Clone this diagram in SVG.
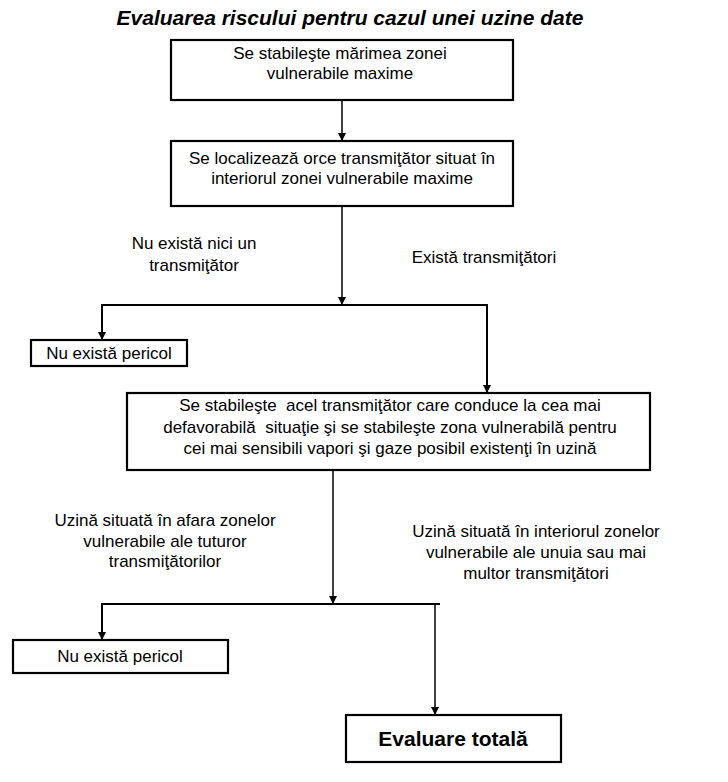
<svg xmlns="http://www.w3.org/2000/svg" width="728" height="782" viewBox="0 0 728 782">
<defs>
<marker id="arr" viewBox="0 0 10 10" refX="10" refY="5" markerWidth="8" markerHeight="8" markerUnits="userSpaceOnUse" orient="auto">
<path d="M0,0 L10,5 L0,10 z" fill="#000"/>
</marker>
<style>
.box{fill:#fff;stroke:#000;stroke-width:2.2}
.t{font-family:"Liberation Sans",Arial,sans-serif;font-size:17px;fill:#000;text-anchor:middle;white-space:pre}
.c{fill:none;stroke:#000;stroke-width:1.5}
.h{fill:none;stroke:#000;stroke-width:2}
</style>
</defs>
<rect width="728" height="782" fill="#fff"/>
<text x="350" y="25" font-family="Liberation Sans,Arial,sans-serif" font-size="21" font-weight="bold" font-style="italic" text-anchor="middle">Evaluarea riscului pentru cazul unei uzine date</text>
<g id="connectors">
<line class="c" x1="342" y1="100" x2="342" y2="141" marker-end="url(#arr)"/>
<line class="c" x1="342" y1="206" x2="342" y2="305" marker-end="url(#arr)"/>
<polyline class="h" points="102,340 102,305 487,305 487,393"/>
<line class="c" x1="102" y1="312" x2="102" y2="340" marker-end="url(#arr)"/>
<line class="c" x1="487" y1="370" x2="487" y2="393" marker-end="url(#arr)"/>
<line class="c" x1="333" y1="470" x2="333" y2="604" marker-end="url(#arr)"/>
<polyline class="h" points="102,640 102,604 440,604"/>
<line class="c" x1="102" y1="615" x2="102" y2="640" marker-end="url(#arr)"/>
<line class="c" x1="435" y1="604" x2="435" y2="715" marker-end="url(#arr)"/>
</g>
<g id="labels">
<text class="t" x="194" y="249">Nu există nici un</text>
<text class="t" x="194" y="271">transmiţător</text>
<text class="t" x="484" y="263">Există transmiţători</text>
<text class="t" x="165" y="526">Uzină situată în afara zonelor</text>
<text class="t" x="165" y="547">vulnerabile ale tuturor</text>
<text class="t" x="165" y="567">transmiţătorilor</text>
<text class="t" x="536" y="537">Uzină situată în interiorul zonelor</text>
<text class="t" x="536" y="558">vulnerabile ale unuia sau mai</text>
<text class="t" x="536" y="579">multor transmiţători</text>
</g>
<g id="n1">
<rect class="box" x="171" y="40" width="342" height="60"/>
<text class="t" x="340" y="59">Se stabileşte mărimea zonei</text>
<text class="t" x="340" y="79">vulnerabile maxime</text>
</g>
<g id="n2">
<rect class="box" x="171" y="141" width="342" height="65"/>
<text class="t" x="342" y="164">Se localizează orce transmiţător situat în</text>
<text class="t" x="342" y="184">interiorul zonei vulnerabile maxime</text>
</g>
<g id="n3">
<rect class="box" x="31" y="340" width="156" height="26"/>
<text class="t" x="109" y="359">Nu există pericol</text>
</g>
<g id="n4">
<rect class="box" x="127" y="393" width="523" height="77"/>
<text class="t" x="390" y="411">Se stabileşte  acel transmiţător care conduce la cea mai</text>
<text class="t" x="390" y="433">defavorabilă  situaţie şi se stabileşte zona vulnerabilă pentru</text>
<text class="t" x="390" y="454">cei mai sensibili vapori şi gaze posibil existenţi în uzină</text>
</g>
<g id="n5">
<rect class="box" x="13" y="640" width="215" height="33"/>
<text class="t" x="120" y="662">Nu există pericol</text>
</g>
<g id="n6">
<rect class="box" x="346" y="715" width="215" height="47"/>
<text x="453" y="746" font-family="Liberation Sans,Arial,sans-serif" font-size="21" font-weight="bold" text-anchor="middle">Evaluare totală</text>
</g>
</svg>
